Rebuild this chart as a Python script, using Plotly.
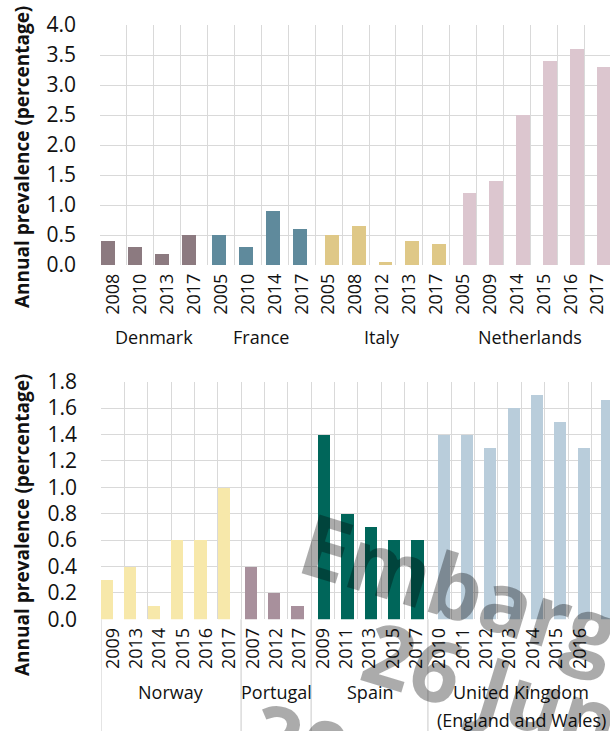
import plotly.graph_objects as go

W, H = 610, 731

# ---------------- data ----------------
top_countries = ["Denmark", "France", "Italy", "Netherlands"]
top_years = [
    ["2008", "2010", "2013", "2017"],
    ["2005", "2010", "2014", "2017"],
    ["2005", "2008", "2012", "2013", "2017"],
    ["2005", "2009", "2014", "2015", "2016", "2017"],
]
top_values = [
    [0.4, 0.3, 0.19, 0.5],
    [0.5, 0.3, 0.9, 0.6],
    [0.5, 0.65, 0.05, 0.4, 0.35],
    [1.2, 1.4, 2.5, 3.4, 3.6, 3.3],
]
top_colors = ["#8c7a80", "#5f8a9c", "#dfc887", "#dcc6cf"]

bottom_countries = ["Norway", "Portugal", "Spain", "United Kingdom\n(England and Wales)"]
bottom_years = [
    ["2009", "2013", "2014", "2015", "2016", "2017"],
    ["2007", "2012", "2017"],
    ["2009", "2011", "2013", "2015", "2017"],
    ["2010", "2011", "2012", "2013", "2014", "2015", "2016", "2017"],
]
bottom_values = [
    [0.3, 0.4, 0.1, 0.6, 0.6, 1.0],
    [0.4, 0.2, 0.1],
    [1.4, 0.8, 0.7, 0.6, 0.6],
    [1.4, 1.4, 1.3, 1.6, 1.7, 1.5, 1.3, 1.66],
]
bottom_colors = ["#f7e8aa", "#a8909c", "#00665a", "#b9cddb"]

y_title = "Annual prevalence (percentage)"
watermark_lines = ["Embargo", "26 June", "2019"]

# ---------------- style ----------------
FONT = "Open Sans"
TXT = "#111111"
GRID = "#d9d9d9"
top_offsets = [-0.463, -0.34, -0.147, -0.024]
bottom_offsets = [-0.5, -0.346, -0.205, -0.085]
BAR_W = 0.52

fig = go.Figure()


def add_panel(countries, years, values, colors, offsets, xa, ya):
    idx = 0
    positions, labels, centers = [], [], []
    for c, yrs, vals, col, off in zip(countries, years, values, colors, offsets):
        xs = list(range(idx, idx + len(yrs)))
        fig.add_trace(go.Bar(
            x=xs, y=vals, name=c.replace("\n", " "), marker=dict(color=col, line=dict(width=0)),
            offset=off, width=BAR_W, xaxis=xa, yaxis=ya, showlegend=False,
        ))
        positions += xs
        labels += yrs
        centers.append((idx + idx + len(yrs) - 1) / 2)
        idx += len(yrs)
    return positions, labels, centers, idx


tp, tl, tc, tn = add_panel(top_countries, top_years, top_values, top_colors, top_offsets, "x", "y")
bp, bl, bc, bn = add_panel(bottom_countries, bottom_years, bottom_values, bottom_colors, bottom_offsets, "x2", "y2")


def xaxis(positions, labels, n, left_px, px_per_unit, anchor):
    right_units = (W - left_px) / px_per_unit - 0.5
    return dict(
        domain=[left_px / W, 1.0], range=[-0.5, right_units], anchor=anchor, automargin=False,
        tickmode="array", tickvals=positions, ticktext=labels, tickangle=-90,
        tickfont=dict(family=FONT, size=18, color=TXT),
        showgrid=False, zeroline=False, showline=False, ticks="",
        ticklabelstandoff=4,
        minor=dict(tickmode="array", tickvals=[i - 0.5 for i in range(n + 1)],
                   showgrid=True, gridcolor=GRID, gridwidth=1.4, ticks=""),
    )


def yaxis(top_px, bottom_px, rng, dtick, anchor):
    return dict(
        domain=[1 - bottom_px / H, 1 - top_px / H], range=rng, dtick=dtick, tick0=0,
        tickformat=".1f", anchor=anchor, automargin=False,
        tickfont=dict(family=FONT, size=21, color=TXT),
        showgrid=True, gridcolor=GRID, gridwidth=1.4, zeroline=False, showline=False,
        ticks="", ticklabelstandoff=23,
    )


fig.update_layout(
    width=W, height=H, margin=dict(l=0, r=0, t=0, b=0, autoexpand=False),
    paper_bgcolor="white", plot_bgcolor="white",
    barmode="overlay", bargap=0,
    xaxis=xaxis(tp, tl, tn, 100, 26.9, "y"),
    yaxis=yaxis(25, 265, [0, 4.0], 0.5, "x"),
    xaxis2=xaxis(bp, bl, bn, 101, 23.35, "y2"),
    yaxis2=yaxis(381.7, 619.3, [0, 1.8], 0.2, "x2"),
    font=dict(family=FONT, color=TXT),
)

annotations = []
for c, xc in zip(top_countries, tc):
    annotations.append(dict(x=xc, y=1 - 337 / H, xref="x", yref="paper", text=c, showarrow=False,
                            font=dict(family=FONT, size=18, color=TXT), xanchor="center", yanchor="middle"))
for c, xc in zip(bottom_countries, bc):
    for k, line in enumerate(c.split("\n")):
        annotations.append(dict(x=xc, y=1 - (692 + 28 * k) / H, xref="x2", yref="paper", text=line,
                                showarrow=False, font=dict(family=FONT, size=18, color=TXT),
                                xanchor="center", yanchor="middle"))
for yc in (157, 525):
    annotations.append(dict(x=22 / W, y=1 - yc / H, xref="paper", yref="paper", text="<b>%s</b>" % y_title,
                            textangle=-90, showarrow=False, xanchor="center", yanchor="middle",
                            font=dict(family=FONT, size=19, color=TXT)))

# watermark
wm_centers = [(486, 594), (516, 692), (347, 756)]
for t, (cx, cy) in zip(watermark_lines, wm_centers):
    annotations.append(dict(x=cx / W, y=1 - cy / H, xref="paper", yref="paper", text="<b>%s</b>" % t,
                            textangle=17, showarrow=False, xanchor="center", yanchor="middle",
                            font=dict(family=FONT, size=86, color="rgba(0,0,0,0.33)")))
fig.update_layout(annotations=annotations)

# dividers between country groups (bottom panel)
shapes = []
b = -0.5
for yrs in bottom_years:
    shapes.append(dict(type="line", xref="x2", yref="paper", x0=b, x1=b, y0=1 - 619.3 / H, y1=0,
                       line=dict(color=GRID, width=1.4)))
    b += len(yrs)
fig.update_layout(shapes=shapes)

fig.write_html("out.html", config={"displayModeBar": False},
               post_script="document.body.style.margin='0';document.body.style.overflow='hidden';")
